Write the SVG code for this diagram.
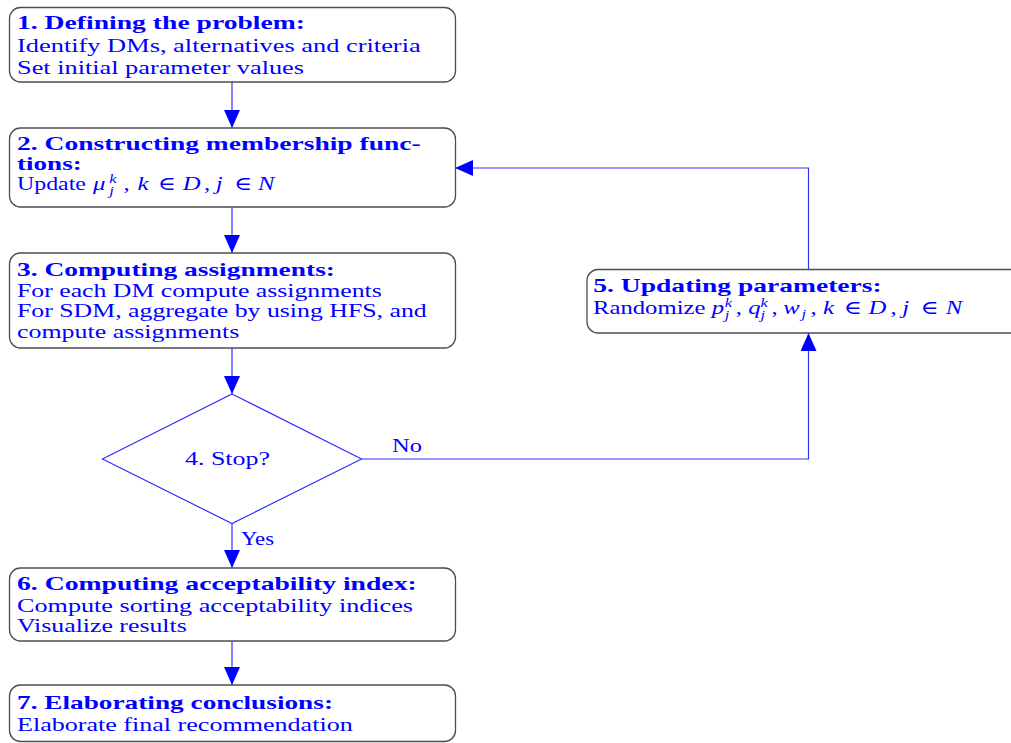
<svg xmlns="http://www.w3.org/2000/svg" width="1011" height="743" viewBox="0 0 1011 743">
<style>
.t{font-family:"Liberation Serif","DejaVu Serif",serif;font-size:19px;fill:#0000ff}
.b{font-weight:bold}
.i{font-style:italic}
.s{font-size:12.5px;font-style:italic}
.box{fill:#ffffff;stroke:#4d4d4d;stroke-width:1.3}
.c{fill:none;stroke:#3333ff;stroke-width:1.2}
</style>
<defs>
<marker id="ah" viewBox="0 0 18 16" refX="18" refY="8" markerWidth="18" markerHeight="16" markerUnits="userSpaceOnUse" orient="auto">
<path d="M0,0 L18,8 L0,16 Z" fill="#0000ff"/>
</marker>
</defs>
<rect width="1011" height="743" fill="#ffffff"/>
<g id="connectors">
<line class="c" x1="232" y1="82" x2="232" y2="128" marker-end="url(#ah)"/>
<line class="c" x1="232" y1="207" x2="232" y2="253" marker-end="url(#ah)"/>
<line class="c" x1="232" y1="348" x2="232" y2="394" marker-end="url(#ah)"/>
<line class="c" x1="232" y1="523.5" x2="232" y2="568" marker-end="url(#ah)"/>
<line class="c" x1="232" y1="641" x2="232" y2="685" marker-end="url(#ah)"/>
<polyline class="c" points="361.5,459 808.5,459 808.5,333" marker-end="url(#ah)"/>
<polyline class="c" points="808.5,269.5 808.5,168 455,168" marker-end="url(#ah)"/>
<text class="t" x="392" y="451.5" textLength="30" lengthAdjust="spacingAndGlyphs">No</text>
<text class="t" x="241" y="545" textLength="33" lengthAdjust="spacingAndGlyphs">Yes</text>
</g>
<g id="n1">
<rect class="box" x="9.5" y="7.5" width="446" height="74.5" rx="11"/>
<text class="t b" x="17" y="29" textLength="288" lengthAdjust="spacingAndGlyphs">1. Defining the problem:</text>
<text class="t" x="17" y="51.5" textLength="403.7" lengthAdjust="spacingAndGlyphs">Identify DMs, alternatives and criteria</text>
<text class="t" x="17" y="73.5" textLength="287" lengthAdjust="spacingAndGlyphs">Set initial parameter values</text>
</g>
<g id="n2">
<rect class="box" x="9.5" y="128" width="446" height="79" rx="11"/>
<text class="t b" x="17" y="149.5" textLength="403.7" lengthAdjust="spacingAndGlyphs">2. Constructing membership func-</text>
<text class="t b" x="17" y="170" textLength="64.7" lengthAdjust="spacingAndGlyphs">tions:</text>
<text class="t" transform="scale(1.3,1)" y="190.5"><tspan x="13.08" textLength="53" lengthAdjust="spacingAndGlyphs">Update</tspan><tspan class="i" x="71.5">μ</tspan><tspan class="s" x="84" y="183.5">k</tspan><tspan class="s" x="84" y="195.5">j</tspan><tspan x="95" y="190.5">,</tspan><tspan class="i" x="105.7">k</tspan><tspan x="121.4">∈</tspan><tspan class="i" x="140.5">D</tspan><tspan x="157">,</tspan><tspan class="i" x="166">j</tspan><tspan x="180">∈</tspan><tspan class="i" x="198.5">N</tspan></text>
</g>
<g id="n3">
<rect class="box" x="9.5" y="253" width="446" height="95" rx="11"/>
<text class="t b" x="17" y="275.5" textLength="318" lengthAdjust="spacingAndGlyphs">3. Computing assignments:</text>
<text class="t" x="17" y="296.5" textLength="364.7" lengthAdjust="spacingAndGlyphs">For each DM compute assignments</text>
<text class="t" x="17" y="317" textLength="409.7" lengthAdjust="spacingAndGlyphs">For SDM, aggregate by using HFS, and</text>
<text class="t" x="17" y="337.5" textLength="222.3" lengthAdjust="spacingAndGlyphs">compute assignments</text>
</g>
<g id="n4">
<polygon points="232,394 361.5,459 232,523.5 102.5,459" fill="#ffffff" stroke="#3333ff" stroke-width="1.2"/>
<text class="t" x="185" y="465" textLength="85" lengthAdjust="spacingAndGlyphs">4. Stop?</text>
</g>
<g id="n5">
<rect class="box" x="587" y="269.5" width="440" height="63.5" rx="11"/>
<text class="t b" x="593.3" y="291.5" textLength="288.4" lengthAdjust="spacingAndGlyphs">5. Updating parameters:</text>
<text class="t" transform="scale(1.3,1)" y="314"><tspan x="456.15" textLength="86.5" lengthAdjust="spacingAndGlyphs">Randomize</tspan><tspan class="i" x="547.5">p</tspan><tspan class="s" x="557.5" y="307">k</tspan><tspan class="s" x="557.5" y="319">j</tspan><tspan x="566" y="314">,</tspan><tspan class="i" x="575.5">q</tspan><tspan class="s" x="585" y="307">k</tspan><tspan class="s" x="585" y="319">j</tspan><tspan x="593.5" y="314">,</tspan><tspan class="i" x="602.5">w</tspan><tspan class="s" x="616.5" y="318.5">j</tspan><tspan x="623.5" y="314">,</tspan><tspan class="i" x="633">k</tspan><tspan x="649.1">∈</tspan><tspan class="i" x="668">D</tspan><tspan x="685">,</tspan><tspan class="i" x="694">j</tspan><tspan x="708">∈</tspan><tspan class="i" x="727.5">N</tspan></text>
</g>
<g id="n6">
<rect class="box" x="9.5" y="568" width="446" height="73" rx="11"/>
<text class="t b" x="17" y="590" textLength="399.7" lengthAdjust="spacingAndGlyphs">6. Computing acceptability index:</text>
<text class="t" x="17" y="611.5" textLength="396" lengthAdjust="spacingAndGlyphs">Compute sorting acceptability indices</text>
<text class="t" x="17" y="632" textLength="169.7" lengthAdjust="spacingAndGlyphs">Visualize results</text>
</g>
<g id="n7">
<rect class="box" x="9.5" y="685" width="446" height="56.5" rx="11"/>
<text class="t b" x="17" y="709" textLength="316" lengthAdjust="spacingAndGlyphs">7. Elaborating conclusions:</text>
<text class="t" x="17" y="731" textLength="335.7" lengthAdjust="spacingAndGlyphs">Elaborate final recommendation</text>
</g>
</svg>
